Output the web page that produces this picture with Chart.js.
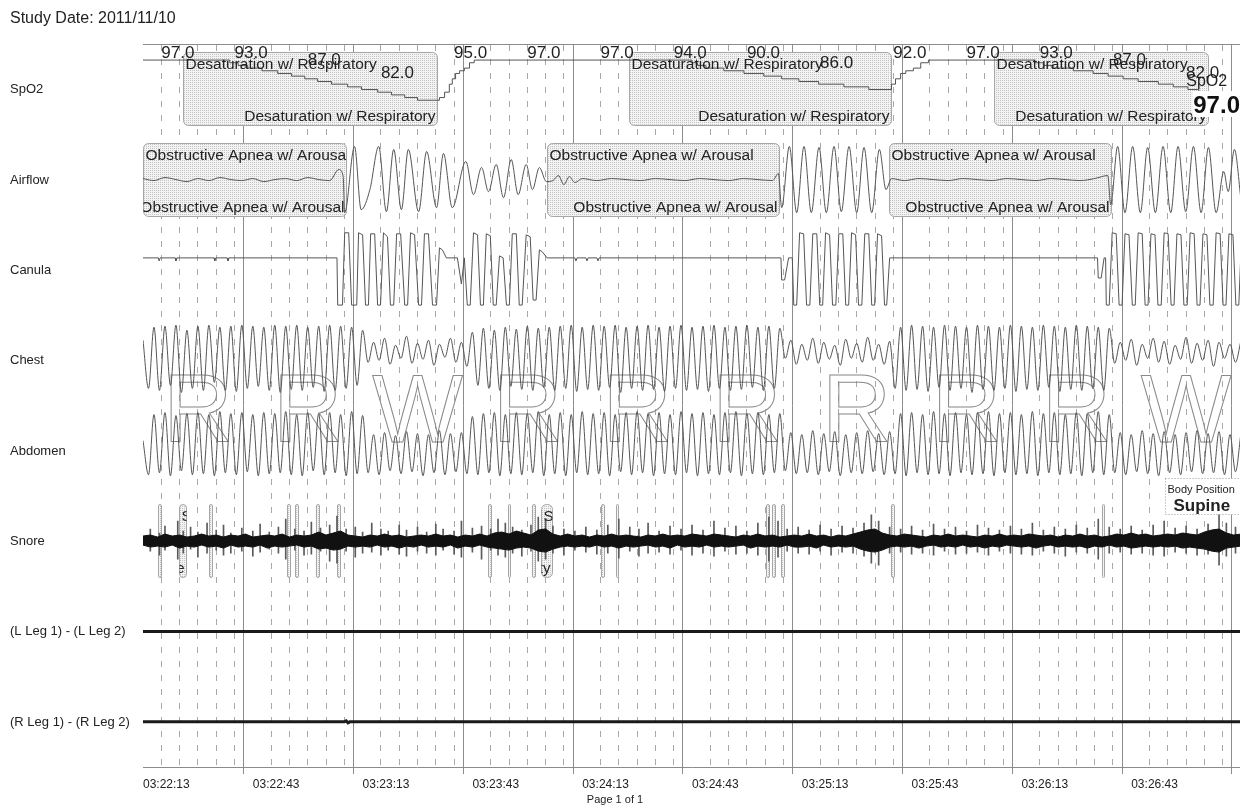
<!DOCTYPE html>
<html>
<head>
<meta charset="utf-8">
<script src="https://cdn.jsdelivr.net/npm/chart.js@4.4.0/dist/chart.umd.min.js"></script>
<style>
html, body { margin: 0; padding: 0; background: #fff; overflow: hidden; }
canvas { display: block; }
</style>
</head>
<body>
<canvas id="psg" width="1244" height="805"></canvas>
<script>
"use strict";
// ---- data (time in seconds from 03:22:13) ----
const studyDate = '2011/11/10';
const tickLabels = ['03:22:13', '03:22:43', '03:23:13', '03:23:43', '03:24:13', '03:24:43', '03:25:13', '03:25:43', '03:26:13', '03:26:43'];
const channels = ['SpO2', 'Airflow', 'Canula', 'Chest', 'Abdomen', 'Snore', '(L Leg 1) - (L Leg 2)', '(R Leg 1) - (R Leg 2)'];
const stages = ['R', 'R', 'W', 'R', 'R', 'R', 'R', 'R', 'R', 'W'];

// SpO2 (%) - value changes at time t
const spo2 = [[0,97],[23.7,96],[26,95],[28.6,94],[32.5,93],[36.8,92],[40.6,91],[44.2,90],[47.7,89],[51.5,88],[55.9,87],[59.7,86],[64.1,85],[67.9,84],[71.5,83],[75,82],[81,83],[82.4,85],[83.7,88],[84.5,90],[85.4,92],[86.5,93],[87.8,94],[89.2,96],[90.5,97],
  [150,96],[151.5,95],[153.8,94],[158.7,93],[164.2,92],[169.6,91],[174.5,90],[179.2,89],[184.6,88],[191.5,87],[198.3,86],[204.5,88],[205.6,90],[207,92],[208.4,93],[210.5,94],[212.5,96],[214.6,97],
  [243.5,96],[246,95],[248.7,94],[254.2,93],[259.6,92],[263.7,91],[267.8,90],[271.9,89],[277.4,88],[281.5,87],[285.5,86],[288.5,85],[291,84],[294,83],[296.6,82],[300,82]];
const spo2LabelT = [5, 25, 45, 65, 85, 105, 125, 145, 165, 185, 205, 225, 245, 265, 285];
const spo2LabelV = [97, 93, 87, 82, 95, 97, 97, 94, 90, 86, 92, 97, 93, 87, 82];

// Airflow [t, amplitude]
const airflow = [[0,1],[3,-1],[6,2],[9,0],[12,-2],[15,1],[18,-1],[21,2],[24,0],[27,-1],[30,1],[33,-2],[36,0],[39,1],[42,-1],[45,2],[48,0],[51,-1],
  [53.5,10],[54.7,3],[55.1,-33],[57.8,33],[59.6,-30],[62,-10],[64.4,33],[66.5,-32],[68.5,30],[70.6,-30],[72.5,30],[75.3,-32],[77.5,28],[80.2,-28],[82.1,26],[84.5,-28],
  [88.2,18],[90.3,-15],[92.5,12],[94.4,-12],[96.5,15],[98.5,-18],[100.6,20],[102.5,-15],[104.7,15],[106.4,-10],[108.3,12],[110.2,-2],
  [112,-1],[113.5,4],[115,-5],[116.5,3],[118,-3],[120,1],[124,-1],[128,1],[132,0],[136,-1],[140,1],[144,0],[148,-1],[152,1],[156,0],[160,-1],[164,1],[168,0],[172,-1],[173.6,6],
  [174.5,-28],[176.6,33],[178.6,-33],[180.6,33],[182.6,-33],[184.7,32],[186.7,-33],[188.8,33],[190.8,-32],[192.9,33],[195,-33],[197,32],[199.1,-33],[201.2,30],[203,-10],
  [204.5,1],[208,-1],[212,1],[216,0],[220,-1],[224,1],[228,0],[232,-1],[236,1],[240,0],[244,-1],[248,1],[252,0],[256,-1],[260,1],[263.6,4],[264.4,-25],
  [266.3,33],[268.3,-33],[270.4,33],[272.5,-33],[274.5,32],[276.6,-33],[278.7,33],[280.8,-33],[282.8,33],[284.9,-32],[287,33],[289.1,-33],[291.1,32],[293.2,-33],[295.3,8],[296.5,-12],[298.2,30],[300,-20]];

// Canula [t, amplitude]
const canula = [[0,12],[4.2,12],[4.4,9],[4.7,12],[8.8,12],[9,9],[9.3,12],[19.4,12],[19.6,9],[19.9,12],[23,12],[23.2,9],[23.5,12],[53,12],
  [53.2,-35],[54.5,-35],[55.1,37],[56.2,37],[57,-35],[58.4,-35],[58.9,37],[60,35],[60.8,-35],[61.6,-35],[62.2,36],[63.3,36],[64.1,-35],[64.9,-35],[65.7,37],[66.8,33],
  [67.6,-35],[68.5,-35],[69.3,36],[70.4,36],[71.5,-35],[72.3,-35],[73.1,37],[74.2,35],[75.3,-35],[76.1,-35],[76.9,36],[78,36],[79.1,-35],[80.2,-35],[81,22],[81.8,20],
  [82.9,12],[85.9,12],[87,-14],[87.8,12],[88.6,-35],[89.4,-35],[90.3,37],[91.4,35],[92.2,-35],[93,-35],[93.8,36],[94.9,34],[95.7,-35],[96.5,-35],[97.4,14],[98.4,12],
  [99.3,-35],[100.1,-35],[100.9,36],[102,36],[102.8,-35],[103.6,-35],[104.7,35],[105.8,33],[106.6,-30],[107.4,-30],[108.3,20],[109.1,18],[110.4,12],
  [118,12],[118.3,9],[118.6,12],[121,12],[121.3,9],[121.6,12],[124,12],[124.3,9],[124.6,12],[174.3,12],
  [174.5,-10],[175.3,-10],[176.4,12],[177.4,12],[177.8,-35],[178.6,-35],[179.4,37],[180.5,36],[181.3,-35],[182.2,-35],[183,36],[184.1,36],[184.9,-35],[185.7,-35],[186.5,37],[187.6,35],
  [188.4,-35],[189.3,-35],[190.1,36],[191.2,36],[192,-35],[192.8,-35],[193.6,37],[194.7,35],[195.5,-35],[196.4,-35],[197.2,36],[198.3,36],[199.1,-35],[199.9,-35],[200.7,36],[201.8,34],
  [202.6,-35],[203.2,-35],[204,12],[260.8,12],
  [261,-8],[261.8,-8],[262.6,12],[263,12],[263.2,-35],[264,-35],[264.8,37],[265.9,36],[266.7,-35],[267.5,-35],[268.3,36],[269.4,35],[270.3,-35],[271.1,-35],[271.9,37],[273,36],
  [273.8,-35],[274.6,-35],[275.4,36],[276.5,35],[277.3,-35],[278.2,-35],[279,37],[280.1,36],[280.9,-35],[281.7,-35],[282.5,36],[283.6,35],[284.4,-35],[285.3,-35],[286.1,37],[287.2,36],
  [288,-35],[288.8,-35],[289.6,36],[290.7,35],[291.5,-35],[292.4,-35],[293.2,37],[294.3,36],[295.1,-35],[295.9,-35],[296.7,36],[297.8,35],[298.6,-35],[299.4,-35],[300,20]];

// Chest / Abdomen effort, one value every 1.5 s
const effortStep = 1.5;
const chest = [20,-28,33,-30,34,-25,35,-32,30,-28,34,-30,35,-22,33,-30,34,-31,35,-28,34,-26,33,-30,35,-32,34,-29,35,-30,33,-27,34,-31,35,-30,34,-28,33,-25,30,
  -2,18,0,22,-4,15,2,24,-3,17,1,20,-5,16,3,22,-2,18,-6,
  28,-25,32,-28,30,-30,33,-26,31,-29,34,-30,32,-27,33,
  -30,34,-28,35,-31,33,-29,35,-30,34,-27,35,-32,33,-28,34,-30,35,-29,33,-31,34,-28,35,-30,33,-29,34,-31,35,-28,33,-30,34,-29,35,-27,33,-30,34,-28,32,
  2,20,-4,16,0,22,-3,18,1,15,-5,21,2,17,-2,23,0,16,-4,19,
  -28,33,-30,35,-29,34,-31,33,-27,35,-30,34,-28,33,-32,35,-29,34,-30,33,-28,35,-31,34,-29,33,-30,35,-27,34,-31,33,-29,35,-30,34,-28,33,-30,32,
  -3,18,0,21,-5,16,2,22,-2,19,-4,15,1,23,-3,17,0,20,-6,18,2,16,-2,20];
const abdomen = [10,-24,36,-22,38,-25,35,-20,37,-24,38,-23,36,-25,39,-22,37,-24,38,-21,36,-25,38,-23,37,-22,39,-24,36,-25,38,-20,37,-24,38,-22,36,-25,39,-23,35,
  -22,16,-24,18,-20,15,-23,19,-21,17,-25,16,-22,20,-24,17,-21,18,-23,
  34,-24,37,-22,38,-25,36,-23,38,-24,37,-22,39,-25,36,
  -23,38,-25,36,-22,39,-24,37,-23,38,-25,36,-21,38,-24,39,-22,37,-25,38,-23,36,-24,39,-22,37,-25,38,-23,36,-24,38,-22,39,-25,37,-23,38,-24,36,-22,37,
  -20,18,-23,16,-22,20,-24,17,-21,19,-25,16,-22,18,-23,20,-21,17,-24,19,
  -23,37,-25,38,-22,36,-24,39,-23,37,-25,38,-22,36,-24,38,-23,39,-25,37,-22,38,-24,36,-23,39,-25,37,-22,38,-24,36,-23,38,-25,37,-22,39,-24,36,
  -22,18,-24,16,-21,20,-23,17,-25,19,-22,16,-24,18,-21,20,-23,17,-22,19,-24,16,-21,18];

// Snore: upper / lower envelope every 2 s, plus single spikes [t, up, down]
const snoreStep = 2;
const snoreUp = [5,6,4,7,5,6,4,5,7,5, 6,4,6,5,7,4,5,6,5,7, 4,6,5,6,9,6,8,10,6,5, 4,6,5,7,5,6,4,5,6,5,
  7,5,6,4,6,5,7,5,8,9, 7,10,8,6,11,12,7,5,7,5, 6,4,6,5,7,5,6,5,4,6, 5,7,5,6,5,7,6,5,7,6,
  5,4,6,5,7,5,6,4,5,6, 5,7,5,6,4,6,5,7,9,11, 12,8,6,5,7,6,5,4,6,5, 7,5,6,5,4,6,5,7,5,6,
  5,7,6,5,6,4,6,5,7,5, 6,4,5,7,6,8,6,7,5,6, 7,6,8,7,6,9,11,12,8,6,7];
const snoreDown = [4,6,5,6,4,7,5,6,4,6, 5,7,4,6,5,6,4,7,5,6, 5,4,6,5,8,7,9,8,5,6, 5,6,4,6,5,7,5,6,4,6,
  5,6,4,7,5,6,4,6,7,8, 9,7,6,7,10,11,8,6,5,6, 5,6,4,6,5,7,5,6,5,4, 6,5,7,4,6,5,6,4,6,5,
  6,5,4,7,5,6,5,6,4,6, 6,5,7,4,6,5,6,5,8,10, 11,9,6,5,6,5,7,5,4,6, 5,6,4,6,5,7,5,6,4,5,
  6,5,7,5,4,6,5,6,5,7, 5,6,4,6,5,7,6,5,6,5, 6,5,7,6,7,8,10,11,7,6,5];
const snoreSpikes = [[2,12,10],[4.5,8,14],[6,15,9],[9.5,20,18],[11,10,12],[13,14,8],[15,9,16],[17.5,18,12],[20,11,9],[22,16,14],[24,8,12],[27,13,10],[30,10,15],[32,17,11],
  [34.5,9,8],[37,14,12],[39,22,18],[41.5,12,9],[44,10,14],[46,19,13],[48.5,13,10],[51,16,20],[53,25,22],[55.5,12,10],[58,14,16],[60,9,12],[62.5,18,11],[65,12,14],
  [67,10,9],[70,16,13],[72,11,15],[75,14,10],[77.5,9,12],[80,17,14],[82,12,9],[85,10,13],[87,20,16],[90,13,11],[92.5,15,18],[95,12,9],[97,22,14],[99,18,16],[101,14,12],
  [103.5,11,15],[106,16,10],[108,24,20],[110,22,18],[112,15,12],[115,12,14],[118,10,9],[121,14,11],[124,11,13],[127,16,12],[130,22,17],[133,14,10],[135.5,12,15],
  [138,18,12],[141,10,11],[144,15,13],[147,12,9],[150,16,14],[153,11,12],[156,20,15],[159,13,10],[162,15,13],[165,10,12],[168,18,14],[171,24,20],[173.5,20,16],
  [176,12,10],[179,14,12],[182,11,13],[185,16,10],[188,12,14],[191,15,11],[194,13,12],[197,18,15],[199,26,22],[201,20,24],[204,14,12],[207,12,11],[210,15,13],
  [213,11,12],[216,17,14],[219,12,10],[222,14,13],[225,10,12],[228,16,11],[231,13,14],[234,11,10],[237,15,12],[240,12,13],[243,18,14],[246,11,10],[249,14,12],
  [252,12,15],[255,16,11],[258,13,12],[261,22,18],[264,14,12],[267,12,11],[270,15,13],[273,11,12],[276,16,14],[279,20,15],[282,13,11],[285,15,12],[288,12,14],
  [291,17,13],[294,28,24],[296,18,15],[298.5,14,12]];

// Leg EMG
const legL = [[0,0],[300,0]];
const legR = [[0,0],[55,0],[55.5,1],[56,-1],[56.5,0],[300,0]];

// Scored events [start, end]
const desatEvents = [[10.9,80.2],[132.8,204.3],[232.4,291]];
const apneaEvents = [[0,55.6],[110.5,173.7],[203.7,264.5]];
const snoreEvents = [[4.2,5.0,''],[9.8,11.7,'Snore'],[18.1,18.9,''],[39.3,40.1,''],[41.5,42.3,''],[47.2,48.0,''],[53.0,53.8,''],[94.2,95.0,''],[99.6,100.4,''],
  [106.2,107.0,''],[108.7,111.7,'Snore Activity'],[125.2,126.0,''],[129.1,129.9,''],[170.2,171.0,''],[171.9,172.7,''],[174.3,175.1,''],[204.3,205.1,''],[261.9,262.7,'']];
const bodyPosition = 'Supine';
const bodyPosT = 279.3;
const spo2Now = 97.0;

// ---- chart ----
const FONT = '"Liberation Sans", Arial, sans-serif';
Chart.defaults.font.family = FONT;
const pts = arr => arr.map(p => ({x: p[0], y: p[1]}));
const sampled = (arr, step) => arr.map((v, i) => ({x: i * step, y: v}));

const rowRanges = [[69.25, 103], [-45, 45], [-45, 45], [-45, 45], [-45, 45], [-45, 45], [-45, 45], [-45, 45]];
const scales = {
  x: {
    type: 'linear', position: 'bottom', min: 0, max: 300, offset: false,
    afterFit: s => { s.height = 24; },
    border: {display: true, color: '#8c8c8c'},
    grid: {
      color: c => (c.tick && c.tick.value % 30 === 0) ? '#8c8c8c' : 'rgba(0,0,0,0)',
      tickColor: c => (c.tick && c.tick.value % 30 === 0) ? '#8c8c8c' : 'rgba(0,0,0,0)',
      tickLength: 7
    },
    ticks: {
      stepSize: 5, autoSkip: false, maxRotation: 0, align: 'start', padding: 3, color: '#222', font: {size: 12},
      callback: v => (v % 30 === 0 && tickLabels[v / 30]) ? tickLabels[v / 30] : ''
    }
  },
  x2: {
    type: 'linear', position: 'top', min: 0, max: 300, offset: false,
    afterFit: s => { s.height = 0; },
    border: {display: true, color: '#8c8c8c', dash: [6, 8]},
    grid: {color: c => (c.tick && c.tick.value % 30 === 0) ? 'rgba(0,0,0,0)' : '#a8a8a8', drawTicks: false},
    ticks: {stepSize: 5, autoSkip: false, display: false}
  }
};
for (let i = channels.length - 1; i >= 0; i--) {
  scales['r' + i] = {
    type: 'linear', position: 'left', stack: 'rows', stackWeight: 1, weight: channels.length - i,
    min: rowRanges[i][0], max: rowRanges[i][1], offset: false,
    afterFit: s => { s.width = 0; },
    grid: {display: false, drawTicks: false}, border: {display: false}, ticks: {display: false}
  };
}

const trace = (data, row, extra) => Object.assign({
  type: 'line', data: data, yAxisID: 'r' + row, xAxisID: 'x',
  borderColor: '#555', borderWidth: 1, pointRadius: 0, fill: false
}, extra || {});

const datasets = [
  trace(pts(spo2), 0, {stepped: true}),
  trace(pts(airflow), 1, {cubicInterpolationMode: 'monotone'}),
  trace(pts(canula), 2, {tension: 0}),
  trace(sampled(chest, effortStep), 3, {cubicInterpolationMode: 'monotone'}),
  trace(sampled(abdomen, effortStep), 4, {cubicInterpolationMode: 'monotone'}),
  trace(sampled(snoreUp, snoreStep), 5, {tension: 0, borderColor: '#111', backgroundColor: '#111', fill: '+1'}),
  trace(sampled(snoreDown.map(v => -v), snoreStep), 5, {tension: 0, borderColor: '#111'}),
  {type: 'bar', data: snoreSpikes.map(s => ({x: s[0], y: [-s[2], s[1]]})), yAxisID: 'r5', xAxisID: 'x',
    backgroundColor: '#5a5a5a', barThickness: 1, grouped: false},
  trace(pts(legL), 6, {borderColor: '#1a1a1a', borderWidth: 3}),
  trace(pts(legR), 7, {borderColor: '#1a1a1a', borderWidth: 3})
];

let dots = null;
function dotPattern(ctx) {
  if (dots) return dots;
  const c = document.createElement('canvas');
  c.width = 2; c.height = 2;
  const g = c.getContext('2d');
  g.fillStyle = '#f3f3f3'; g.fillRect(0, 0, 2, 2);
  g.fillStyle = '#c4c4c4'; g.fillRect(0, 0, 1, 1);
  dots = ctx.createPattern(c, 'repeat');
  return dots;
}
function boxRect(chart, row, t0, t1) {
  const xs = chart.scales.x, ys = chart.scales['r' + row];
  const mid = (ys.top + ys.bottom) / 2;
  return {l: Math.round(xs.getPixelForValue(t0)) + 0.5, r: Math.round(xs.getPixelForValue(t1)) + 0.5, t: Math.round(mid - 37) + 0.5, b: Math.round(mid + 36) + 0.5};
}
function eachEvent(chart, fn) {
  desatEvents.forEach(e => fn(boxRect(chart, 0, e[0], e[1]), 'Desaturation w/ Respiratory', '15.5px'));
  apneaEvents.forEach(e => fn(boxRect(chart, 1, e[0], e[1]), 'Obstructive Apnea w/ Arousal', '15.5px'));
  snoreEvents.forEach(e => fn(boxRect(chart, 5, e[0], e[1]), e[2], '15px'));
}

const psgDecor = {
  id: 'psgDecor',
  beforeDatasetsDraw(chart) {
    const {ctx, chartArea: a, scales: s} = chart;
    ctx.save();
    ctx.beginPath();
    ctx.rect(a.left, a.top, a.right - a.left, a.bottom - a.top);
    ctx.clip();
    // sleep stage letters per 30 s epoch
    ctx.font = '96px ' + FONT;
    ctx.textAlign = 'center';
    ctx.textBaseline = 'alphabetic';
    ctx.strokeStyle = '#8a8a8a';
    ctx.lineWidth = 1;
    const base = s.r4.top + 36;
    stages.forEach((st, k) => ctx.strokeText(st, s.x.getPixelForValue(30 * k + 15), base));
    // event boxes
    const pat = dotPattern(ctx);
    eachEvent(chart, b => {
      ctx.beginPath();
      ctx.roundRect(b.l, b.t, b.r - b.l, b.b - b.t, 5);
      ctx.fillStyle = pat;
      ctx.fill();
      ctx.strokeStyle = '#a6a6a6';
      ctx.stroke();
    });
    ctx.restore();
  },
  afterDatasetsDraw(chart) {
    const {ctx, chartArea: a, scales: s} = chart;
    ctx.save();
    ctx.fillStyle = '#222';
    eachEvent(chart, (b, label, size) => {
      if (!label) return;
      ctx.save();
      ctx.beginPath();
      ctx.rect(Math.max(b.l, a.left), b.t, b.r - Math.max(b.l, a.left), b.b - b.t);
      ctx.clip();
      ctx.font = size + ' ' + FONT;
      ctx.textAlign = 'left';
      ctx.fillText(label, b.l + 2, b.t + 16);
      ctx.textAlign = 'right';
      ctx.fillText(label, b.r - 2, b.b - 5);
      ctx.restore();
    });
    // SpO2 values
    ctx.font = '17px ' + FONT;
    ctx.textAlign = 'left';
    const r0 = s.r0;
    spo2LabelT.forEach((t, i) => {
      const v = spo2LabelV[i];
      const y = Math.max(r0.top + 14, r0.getPixelForValue(v) - 22);
      ctx.fillText(v.toFixed(1), s.x.getPixelForValue(t), y);
    });
    ctx.restore();
  },
  afterDraw(chart) {
    const {ctx, scales: s} = chart;
    ctx.save();
    ctx.fillStyle = '#222';
    ctx.textAlign = 'left';
    ctx.textBaseline = 'alphabetic';
    ctx.font = '16px ' + FONT;
    ctx.fillText('Study Date: ' + studyDate, 10, 23);
    ctx.font = '13px ' + FONT;
    channels.forEach((name, i) => {
      const ys = s['r' + i];
      ctx.fillText(name, 10, (ys.top + ys.bottom) / 2 + 4);
    });
    ctx.textAlign = 'center';
    ctx.font = '11px ' + FONT;
    ctx.fillText('Page 1 of 1', 615, 803);
    // body position readout
    const bx = Math.round(s.x.getPixelForValue(bodyPosT)) + 0.5;
    const by = Math.round(s.r5.top - 18) + 0.5;
    ctx.fillStyle = '#fff';
    ctx.fillRect(bx, by, 80, 36);
    ctx.setLineDash([1, 2]);
    ctx.strokeStyle = '#999';
    ctx.strokeRect(bx, by, 80, 36);
    ctx.setLineDash([]);
    ctx.fillStyle = '#222';
    ctx.textAlign = 'left';
    ctx.font = '11px ' + FONT;
    ctx.fillText('Body Position', bx + 2, by + 14);
    ctx.font = 'bold 17px ' + FONT;
    ctx.fillText(bodyPosition, bx + 8, by + 32);
    // SpO2 cursor readout
    const sx = s.x.getPixelForValue(284.5);
    ctx.font = '16px ' + FONT;
    ctx.fillText('SpO2', sx + 2, s.r0.top + 42);
    ctx.fillStyle = '#fff';
    ctx.fillRect(sx + 8, s.r0.top + 47, 60, 26);
    ctx.fillStyle = '#111';
    ctx.font = 'bold 24px ' + FONT;
    ctx.fillText(spo2Now.toFixed(1), sx + 9, s.r0.top + 69);
    ctx.restore();
  }
};

new Chart(document.getElementById('psg'), {
  type: 'line',
  data: {datasets: datasets},
  options: {
    responsive: false,
    animation: false,
    devicePixelRatio: 1,
    layout: {padding: {left: 143, top: 44, right: 1, bottom: 14}},
    scales: scales,
    plugins: {legend: {display: false}, tooltip: {enabled: false}, title: {display: false}}
  },
  plugins: [psgDecor]
});
</script>
</body>
</html>
